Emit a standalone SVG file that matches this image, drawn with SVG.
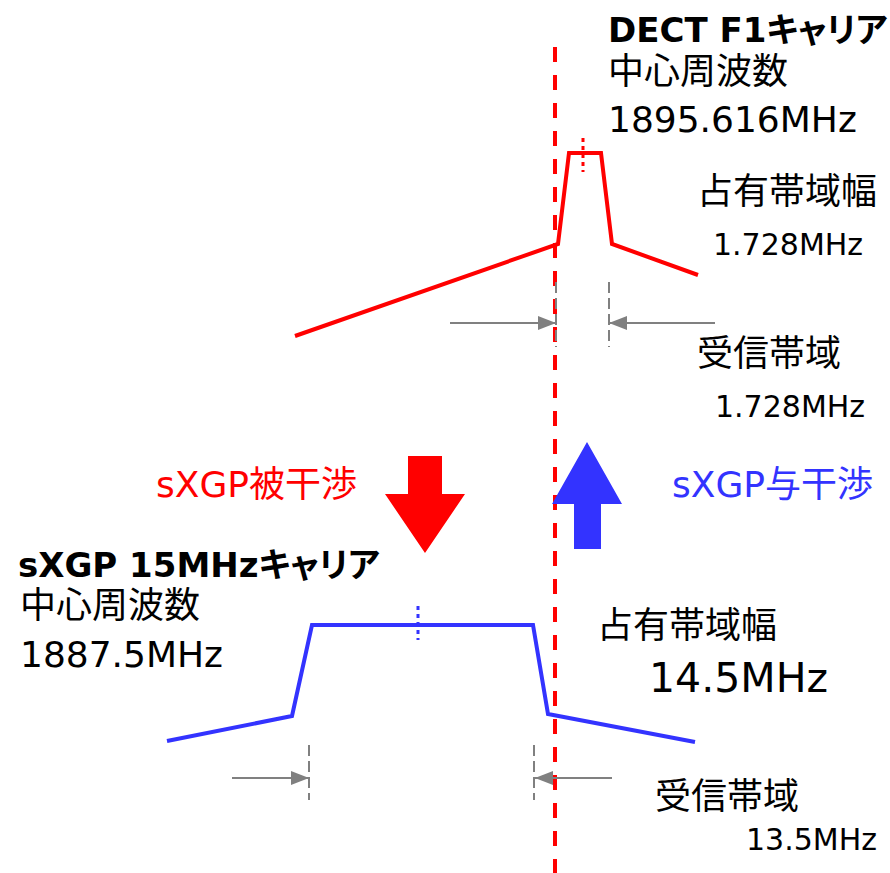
<svg xmlns="http://www.w3.org/2000/svg" width="890" height="873" viewBox="0 0 890 873">
<style>
text{font-family:"DejaVu Sans","Noto Sans CJK JP",sans-serif;fill:#000}
.b{font-weight:bold;font-size:34px}
.m{font-size:36px}
.s{font-size:30px}
.kana{font-feature-settings:"palt"}
.red{fill:#FF0000}
.blue{fill:#3333FF}
.spec{fill:none;stroke-width:4;stroke-linejoin:miter}
.gd{stroke:#808080;stroke-width:2;stroke-dasharray:11,5;fill:none}
.ga{stroke:#808080;stroke-width:2;fill:none;marker-end:url(#ah)}
</style>
<defs>
<marker id="ah" markerWidth="18" markerHeight="14" refX="18" refY="7" orient="auto" markerUnits="userSpaceOnUse">
<path d="M0,0 L18,7 L0,14 Z" fill="#808080"/>
</marker>
</defs>
<rect width="890" height="873" fill="#FFFFFF"/>

<g id="dect-spectrum">
<polyline class="spec" stroke="#FF0000" points="295,336 558,244 569,153 601,153 612,244 698,275"/>
<line x1="583" y1="138" x2="583" y2="172" stroke="#FF0000" stroke-width="3" stroke-dasharray="4,4"/>
</g>

<g id="sxgp-spectrum">
<polyline class="spec" stroke="#3333FF" points="167,741 292,716 312,625 533,625 548,714 695,742"/>
<line x1="418" y1="606" x2="418" y2="640" stroke="#3333FF" stroke-width="3" stroke-dasharray="4,4"/>
</g>

<g id="boundary-line">
<line x1="555" y1="47" x2="555" y2="873" stroke="#FF0000" stroke-width="4" stroke-dasharray="15,13"/>
</g>

<g id="dect-rx-marks">
<line class="gd" x1="556" y1="282" x2="556" y2="347"/>
<line class="gd" x1="609" y1="282" x2="609" y2="347"/>
</g>

<g id="sxgp-rx-marks">
<line class="gd" x1="309" y1="745" x2="309" y2="800"/>
<line class="gd" x1="534" y1="745" x2="534" y2="800"/>
</g>

<g id="connectors">
<line class="ga" x1="450" y1="323" x2="556" y2="323"/>
<line class="ga" x1="715" y1="323" x2="609" y2="323"/>
<line class="ga" x1="232" y1="778" x2="309" y2="778"/>
<line class="ga" x1="612" y1="778" x2="535" y2="778"/>
</g>

<g id="arrow-down">
<polygon points="408,456 442,456 442,494 465,494 425,553 385,494 408,494" fill="#FF0000"/>
</g>
<g id="arrow-up">
<polygon points="587,442 622,504 601,504 601,549 574,549 574,504 552,504" fill="#3333FF"/>
</g>

<g id="dect-label">
<text class="b" x="608" y="42">DECT F1<tspan class="kana">キャリア</tspan></text>
<text class="m" x="608" y="84">中心周波数</text>
<text class="m" x="608" y="132">1895.616MHz</text>
</g>

<g id="dect-occupied">
<text class="m" x="697" y="204">占有帯域幅</text>
<text class="s" x="713" y="255">1.728MHz</text>
</g>

<g id="dect-rx">
<text class="m" x="697" y="366">受信帯域</text>
<text class="s" x="715" y="417">1.728MHz</text>
</g>

<g id="sxgp-victim">
<text class="m red" x="156" y="497">sXGP被干渉</text>
</g>
<g id="sxgp-aggressor">
<text class="m blue" x="672" y="497">sXGP与干渉</text>
</g>

<g id="sxgp-label">
<text class="b" x="18" y="577">sXGP 15MHz<tspan class="kana">キャリア</tspan></text>
<text class="m" x="20" y="618">中心周波数</text>
<text class="m" x="20" y="667">1887.5MHz</text>
</g>

<g id="sxgp-occupied">
<text class="m" x="597" y="638">占有帯域幅</text>
<text x="649" y="692" style="font-size:41px">14.5MHz</text>
</g>

<g id="sxgp-rx">
<text class="m" x="655" y="809">受信帯域</text>
<text class="s" x="746" y="850">13.5MHz</text>
</g>
</svg>
